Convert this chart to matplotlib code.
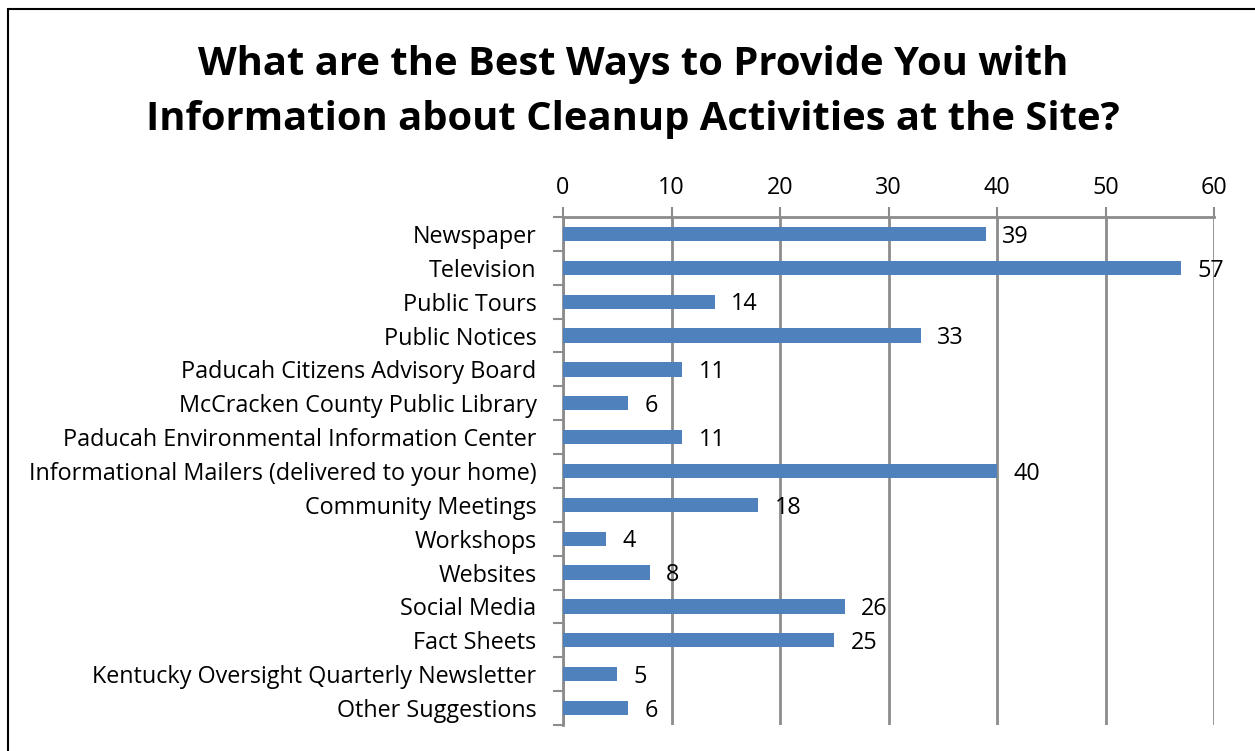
import numpy as np
import matplotlib.pyplot as plt
from matplotlib.patches import Rectangle

categories = [
    "Newspaper",
    "Television",
    "Public Tours",
    "Public Notices",
    "Paducah Citizens Advisory Board",
    "McCracken County Public Library",
    "Paducah Environmental Information Center",
    "Informational Mailers (delivered to your home)",
    "Community Meetings",
    "Workshops",
    "Websites",
    "Social Media",
    "Fact Sheets",
    "Kentucky Oversight Quarterly Newsletter",
    "Other Suggestions",
]
counts = [39, 57, 14, 33, 11, 6, 11, 40, 18, 4, 8, 26, 25, 5, 6]
x_ticks = [0, 10, 20, 30, 40, 50, 60]

title = ("What are the Best Ways to Provide You with\n"
         "Information about Cleanup Activities at the Site?")


def main():
    plt.rcParams['font.family'] = ['Open Sans', 'DejaVu Sans']
    fig = plt.figure(figsize=(12.55, 7.51), dpi=100)
    ax = fig.add_axes([563 / 1255, 1 - 725 / 751, 651 / 1255, 508 / 751])

    grid_c = "#8c8c8c"
    y = np.arange(len(categories))
    ax.barh(y, counts, height=0.42, color="#4F81BD", zorder=3)
    for yi, v in zip(y, counts):
        ax.text(v + 1.5, yi + 0.08, str(v), va="center", ha="left",
                fontsize=16.8, zorder=4)

    ax.set_xlim(0, 60)
    ax.set_ylim(len(categories) - 0.5, -0.5)
    ax.xaxis.tick_top()
    ax.set_xticks(x_ticks)
    ax.tick_params(axis="x", direction="out", length=7, width=1.5,
                   color=grid_c, labelsize=16.8, pad=5)
    ax.grid(axis="x", color=grid_c, linewidth=2, zorder=0)

    ax.set_yticks(y)
    ax.set_yticklabels(categories, fontsize=16.8)
    ax.set_yticks(np.arange(len(categories) + 1) - 0.5, minor=True)
    ax.tick_params(axis="y", which="major", length=0, pad=19)
    ax.tick_params(axis="y", which="minor", direction="out", length=7,
                   width=1.5, color=grid_c)

    for side in ("right", "bottom"):
        ax.spines[side].set_visible(False)
    for side in ("left", "top"):
        ax.spines[side].set_color(grid_c)
        ax.spines[side].set_linewidth(2)

    fig.text(633 / 1255, 1 - 92 / 751, title, ha="center", va="center",
             fontsize=28.8, fontweight="bold", linespacing=1.55)

    fig.patches.append(Rectangle((8 / 1255, -0.1), 1.2, 1 - 9 / 751 + 0.1,
                                 transform=fig.transFigure, fill=False,
                                 edgecolor="black", linewidth=1.5))

    fig.savefig("out.png", dpi=100)


if __name__ == "__main__":
    main()
